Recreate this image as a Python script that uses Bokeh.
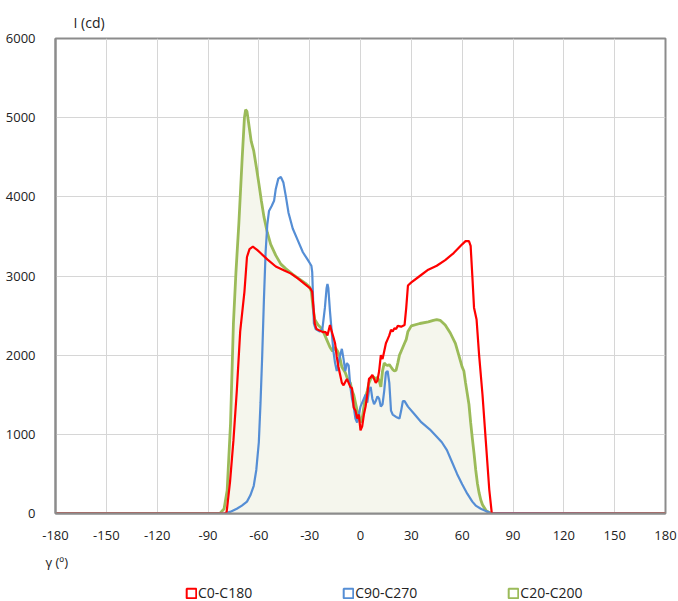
from bokeh.plotting import figure
from bokeh.models import Legend, LegendItem, Title, FixedTicker, Range1d
from bokeh.layouts import column
from bokeh.embed import file_html
from bokeh.resources import INLINE

# ---- data ----
x_ticks = [-180, -150, -120, -90, -60, -30, 0, 30, 60, 90, 120, 150, 180]
y_ticks = [0, 1000, 2000, 3000, 4000, 5000, 6000]

gamma_c0 = [-180, -80, -79, -77, -75, -73, -71, -69.5, -68.5, -67, -65.5, -63.5, -61, -59, -55, -50, -45, -41,
            -37, -33, -29.5, -28.5, -27, -26, -24, -22, -20.5, -19.5, -18, -17, -16, -15, -14, -13, -12, -11,
            -10, -9, -8, -7, -6, -5, -4, -3, -2, -1, 0, 1, 2, 3, 4, 5, 6, 7, 8, 9, 10, 11, 12, 13, 14, 15,
            16, 17, 18, 19, 20, 21, 22, 24, 26, 27, 28, 30, 35, 40, 45, 50, 55, 60, 62, 64, 65, 66, 67, 68.5,
            70, 72, 74, 76, 77.5, 180]
cd_c0 = [0, 0, 20, 400, 920, 1550, 2300, 2600, 2800, 3240, 3340, 3370, 3330, 3290, 3210, 3120, 3070, 3030,
         2970, 2900, 2840, 2800, 2400, 2330, 2310, 2290, 2290, 2250, 2380, 2300, 2230, 2150, 1980, 1850, 1750, 1650,
         1620, 1660, 1700, 1650, 1600, 1580, 1340, 1300, 1200, 1250, 1050, 1100, 1250, 1350, 1500, 1700, 1720, 1750, 1700, 1650, 1680, 1800,
         2000, 1950, 2050, 2150, 2200, 2250, 2320, 2300, 2340, 2330, 2370, 2360, 2380, 2600, 2880, 2920, 3000, 3080,
         3130, 3200, 3290, 3400, 3440, 3440, 3380, 3000, 2600, 2450, 2000, 1500, 900, 300, 0, 0]

gamma_c90 = [-180, -80, -77, -73, -70, -67, -65, -63, -61.5, -60, -59, -58, -57, -56, -55, -54, -52.5, -51, -50,
             -48.5, -47, -45.5, -44, -42.5, -40, -37, -34, -31, -29, -28.5, -27.5, -26.5, -24, -22.5, -21, -20,
             -19.5, -19, -18, -17, -16, -15, -14, -13, -12, -11, -10, -9, -8, -7, -6, -5, -4, -3, -2, -1, 0, 1,
             2, 3, 4, 5, 6, 7, 8, 9, 10, 11, 12, 13, 14, 15, 16, 17, 18, 19, 21, 23, 24, 25, 26, 28, 32, 36, 41,
             45, 48, 51, 54, 57, 60, 63, 66, 68, 71, 74, 77, 180]
cd_c90 = [0, 0, 20, 60, 100, 150, 230, 350, 550, 900, 1400, 2000, 2700, 3300, 3650, 3820, 3880, 3950, 4100,
          4230, 4250, 4180, 4000, 3800, 3600, 3450, 3300, 3200, 3130, 3050, 2400, 2330, 2300, 2330, 2600, 2850,
          2900, 2850, 2550, 2300, 2050, 1900, 1800, 1900, 2000, 2080, 1950, 1800, 1900, 1870, 1600, 1450, 1350, 1200, 1150, 1250, 1350, 1400,
          1450, 1500, 1400, 1550, 1600, 1450, 1380, 1420, 1480, 1450, 1350, 1380, 1550, 1780, 1800, 1650, 1300, 1250, 1220, 1200, 1300, 1420, 1420, 1350, 1250, 1150, 1060,
          970, 900, 800, 650, 500, 370, 250, 150, 100, 60, 30, 5, 0]

gamma_c20 = [-180, -83, -80.5, -78.7, -76.7, -75, -73.5, -71.8, -69.8, -68.5, -67.8, -67, -66, -64.5, -63, -61.5,
             -60, -58.5, -57, -55, -53, -50, -47, -44, -40, -36, -32, -30, -29, -28, -27, -25, -23.5, -22, -20,
             -18, -16.5, -15, -13.5, -12.5, -11, -9, -8, -6, -5, -4, -3, -2, -1, 0, 1, 2, 3, 4, 5, 6, 7, 8, 9,
             10, 11, 12, 13, 14, 15, 16, 17, 18, 19, 20, 21, 22, 23, 24, 25, 26, 27, 28, 30, 35, 40, 43, 45, 47,
             50, 53, 56, 58, 60, 61, 62, 64, 65, 66, 67, 68, 69, 70, 71, 72, 74, 76, 78, 180]
cd_c20 = [0, 0, 60, 290, 1140, 2400, 3050, 3660, 4500, 5000, 5100, 5080, 4930, 4700, 4580, 4380,
          4170, 3950, 3750, 3550, 3400, 3260, 3150, 3090, 3020, 2960, 2900, 2860, 2800, 2600, 2450, 2380, 2350, 2300, 2200,
          2100, 2050, 2100, 2050, 2000, 1850, 1780, 1720, 1650, 1550, 1500, 1400, 1300, 1250, 1150, 1200, 1350, 1480, 1550, 1650, 1700, 1730, 1720, 1700,
          1720, 1680, 1600, 1800, 1900, 1880, 1870, 1880, 1850, 1820, 1800, 1810, 1900, 2000, 2050, 2100, 2150, 2200, 2300, 2370, 2400, 2420, 2440, 2450, 2440,
          2380, 2280, 2150, 2000, 1850, 1800, 1650, 1380, 1150, 950, 760, 550, 380, 260, 170, 110, 40, 10, 0, 0]

series_names = ["C0-C180", "C90-C270", "C20-C200"]
colors = ["#ff0000", "#558ed5", "#9bbb59"]

FONT = "Open Sans"
TXT = "#222222"

p = figure(width=678, height=578, output_backend="svg", toolbar_location=None,
           x_range=Range1d(-180, 180), y_range=Range1d(0, 6000),
           min_border_left=55, min_border_top=38, min_border_right=13, min_border_bottom=65)

p.varea(x=gamma_c20, y1=0, y2=cd_c20, fill_color="#f5f6ed", fill_alpha=1)

p.line(gamma_c20, cd_c20, line_color=colors[2], line_width=2.8)
p.line(gamma_c90, cd_c90, line_color=colors[1], line_width=2.2)
p.line(gamma_c0, cd_c0, line_color=colors[0], line_width=2.2)

# grid / axes
p.xaxis.ticker = FixedTicker(ticks=x_ticks)
p.yaxis.ticker = FixedTicker(ticks=y_ticks)
p.xaxis.major_label_overrides = {t: str(t) for t in x_ticks}
p.yaxis.major_label_overrides = {t: str(t) for t in y_ticks}
for ax in (p.xaxis, p.yaxis):
    ax.major_tick_line_color = None
    ax.minor_tick_line_color = None
    ax.major_label_text_font = FONT
    ax.major_label_text_font_size = "13px"
    ax.major_label_text_color = TXT
    ax.axis_line_color = "#8c8c8c"
    ax.axis_line_width = 2
p.yaxis.major_label_standoff = 14
p.xaxis.major_label_standoff = 11
p.xgrid.ticker = FixedTicker(ticks=x_ticks)
p.ygrid.ticker = FixedTicker(ticks=y_ticks)
p.grid.grid_line_color = "#d6d6d6"
p.grid.grid_line_width = 1
p.outline_line_color = "#8c8c8c"
p.outline_line_width = 2
p.background_fill_color = "white"
p.border_fill_color = "white"

# axis titles as side-panel titles
p.add_layout(Title(text="I (cd)", align="left", offset=18, standoff=14, text_font=FONT,
                   text_font_size="14px", text_font_style="normal", text_color=TXT), "above")
p.add_layout(Title(text="γ (º)", align="left", offset=-10, standoff=16, text_font=FONT,
                   text_font_size="13px", text_font_style="normal", text_color=TXT), "below")

# legend strip (separate small figure below the chart)
lg = figure(width=678, height=23, output_backend="svg", toolbar_location=None,
            x_range=Range1d(0, 1), y_range=Range1d(0, 1),
            x_axis_location=None, y_axis_location=None,
            min_border_left=0, min_border_right=0, min_border_top=0, min_border_bottom=0)
lg.grid.visible = False
lg.outline_line_color = None
lg.background_fill_color = "white"
lg.border_fill_color = "white"
nan = float("nan")
items = []
for name, c in zip(series_names, colors):
    d = lg.quad(left=[nan], right=[nan], bottom=[nan], top=[nan],
                fill_color=None, line_color=c, line_width=2)
    items.append(LegendItem(label=name, renderers=[d]))
legend = Legend(items=items, orientation="horizontal", location=(130, -1),
                spacing=90, glyph_width=12, glyph_height=12, label_standoff=1,
                padding=0, margin=0, border_line_color=None, background_fill_alpha=0,
                label_text_font=FONT, label_text_font_size="14px", label_text_color=TXT)
lg.add_layout(legend, "center")

layout = column(p, lg, spacing=0)
open("out.html", "w").write(file_html(layout, INLINE))
